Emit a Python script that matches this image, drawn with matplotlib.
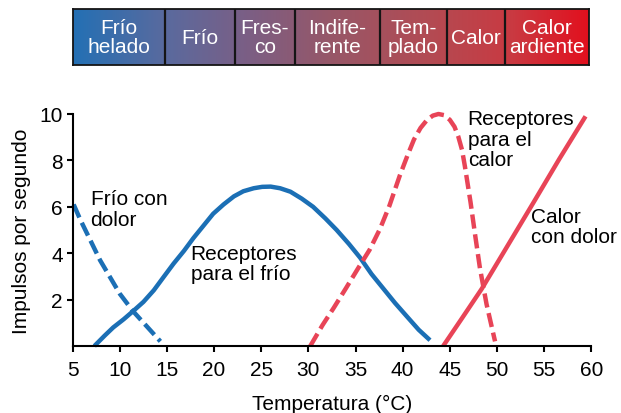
import numpy as np
import matplotlib
matplotlib.use('Agg')
import matplotlib.pyplot as plt
from matplotlib.colors import LinearSegmentedColormap

plt.rcParams['font.family'] = ['Liberation Sans', 'DejaVu Sans']

# datos (temperatura en C, impulsos por segundo)
frio_x = [7.3, 8.4, 9.3, 10.4, 11.4, 12.5, 13.6, 14.6, 15.7, 16.8, 17.8, 18.9, 19.9, 21.0, 22.1, 23.1, 24.2, 25.1, 26.0, 27.0, 28.1, 29.3, 30.5, 31.8, 33.0, 34.3, 35.5, 36.7, 38.0, 39.2, 40.5, 41.7, 42.9]
frio_y = [0.0, 0.45, 0.8, 1.15, 1.5, 1.9, 2.4, 2.95, 3.55, 4.1, 4.65, 5.2, 5.7, 6.1, 6.45, 6.67, 6.8, 6.86, 6.87, 6.8, 6.65, 6.35, 6.0, 5.5, 5.0, 4.4, 3.8, 3.1, 2.45, 1.85, 1.25, 0.7, 0.25]

frio_dolor_x = [5.1, 5.8, 7.9, 10.0, 11.4, 14.3]
frio_dolor_y = [6.1, 5.45, 3.7, 2.25, 1.5, 0.2]

calor_x = [30.2, 31.5, 32.7, 34.0, 35.2, 36.5, 37.6, 38.6, 39.7, 40.5, 41.2, 41.9, 42.6, 43.2, 43.8, 44.4, 45.0, 45.5, 45.9, 46.3, 46.6, 47.2, 47.7, 48.2, 48.9, 49.8]
calor_y = [0.0, 0.9, 1.65, 2.5, 3.3, 4.15, 5.05, 6.05, 7.35, 8.2, 8.9, 9.4, 9.75, 9.93, 10.0, 9.95, 9.75, 9.45, 9.03, 8.45, 7.75, 6.2, 4.75, 3.35, 1.8, 0.2]

calor_dolor_x = [44.3, 46.3, 48.4, 51.1, 53.9, 56.6, 59.4]
calor_dolor_y = [0.0, 1.2, 2.47, 4.3, 6.2, 8.05, 9.9]

escala = ['Frío\nhelado', 'Frío', 'Fres-\nco', 'Indife-\nrente', 'Tem-\nplado', 'Calor', 'Calor\nardiente']
limites = [73, 165, 235, 295, 380, 447, 505, 589]

azul = '#1b6fb5'
rojo = '#e84457'

fig = plt.figure(figsize=(6.21, 4.14), dpi=100)

#%%
# barra de sensaciones arriba
bar = fig.add_axes([73 / 621, 1 - 66 / 414, 516 / 621, 56 / 414])
cmap = LinearSegmentedColormap.from_list('frio_calor', [
    (0.0, '#2470b4'), (0.18, '#5a6a9e'), (0.33, '#7a5f86'),
    (0.5, '#975768'), (0.7, '#b44a52'), (0.85, '#c93a42'), (1.0, '#e2101e')])
grad = np.linspace(0, 1, 256).reshape(1, -1)
bar.imshow(grad, aspect='auto', cmap=cmap, extent=[limites[0], limites[-1], 0, 1])
for xl in limites[1:-1]:
    bar.axvline(xl, color='#151515', lw=1.6)
for i, txt in enumerate(escala):
    bar.text((limites[i] + limites[i + 1]) / 2, 0.5, txt, color='white',
             ha='center', va='center', fontsize=15, linespacing=1.05)
bar.set_xlim(limites[0], limites[-1])
bar.set_ylim(0, 1)
bar.set_xticks([])
bar.set_yticks([])
for s in bar.spines.values():
    s.set_linewidth(1.3)
    s.set_color('#151515')

#%%
# grafica principal
ax = fig.add_axes([72.7 / 621, 1 - 347 / 414, 518.5 / 621, 232 / 414])
estilo = dict(lw=3.2, clip_on=False, solid_joinstyle='round', dash_joinstyle='round')
ax.plot(frio_x, frio_y, color=azul, solid_capstyle='butt', **estilo)
ax.plot(frio_dolor_x, frio_dolor_y, color=azul, dashes=(3.2, 1.3), **estilo)
ax.plot(calor_x, calor_y, color=rojo, dashes=(3.2, 1.3), **estilo)
ax.plot(calor_dolor_x, calor_dolor_y, color=rojo, solid_capstyle='butt', **estilo)

ax.text(6.9, 6.75, 'Frío con\ndolor', fontsize=15, va='top', linespacing=1.1)
ax.text(17.5, 4.4, 'Receptores\npara el frío', fontsize=15, va='top', linespacing=1.1)
ax.text(46.9, 10.2, 'Receptores\npara el\ncalor', fontsize=15, va='top', linespacing=1.1)
ax.text(53.6, 6.0, 'Calor\ncon dolor', fontsize=15, va='top', linespacing=1.1)

ax.set_xlim(5, 60)
ax.set_ylim(0, 10)
ax.set_xticks(range(5, 61, 5))
ax.set_yticks([2, 4, 6, 8, 10])
ax.tick_params(labelsize=15, width=1.5, length=4)
ax.tick_params(axis='x', pad=6)
ax.tick_params(axis='y', pad=3)
ax.spines['top'].set_visible(False)
ax.spines['right'].set_visible(False)
ax.spines['left'].set_linewidth(1.5)
ax.spines['bottom'].set_linewidth(1.5)
ax.set_xlabel('Temperatura (°C)', fontsize=15, labelpad=11)
ax.set_ylabel('Impulsos por segundo', fontsize=15, labelpad=6)

fig.savefig('out.png', dpi=100)
